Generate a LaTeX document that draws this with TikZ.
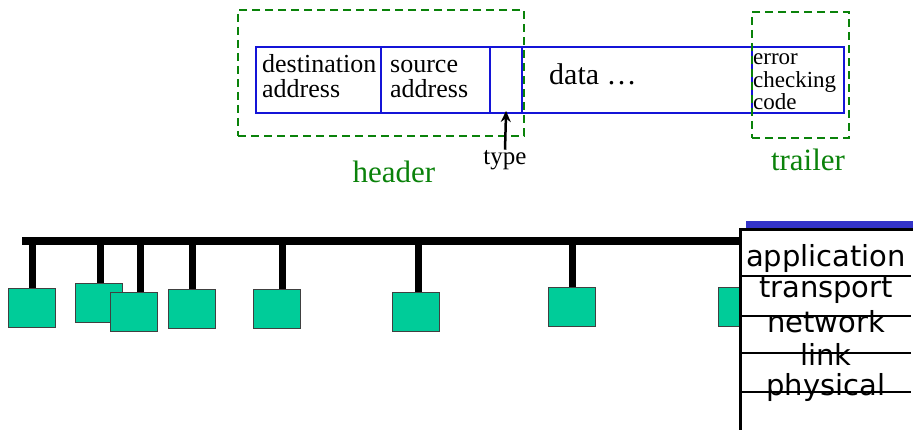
\documentclass[tikz,border=0pt]{standalone}
\usepackage{fontspec}
\setmainfont{Liberation Serif}
\newfontfamily\stackfont{DejaVu Sans}
\usetikzlibrary{arrows.meta}
\definecolor{framblue}{RGB}{20,20,215}
\definecolor{barblue}{RGB}{51,51,200}
\definecolor{hdrgreen}{RGB}{10,130,10}
\definecolor{hostgreen}{RGB}{0,204,153}
\begin{document}
\begin{tikzpicture}[x=1pt,y=-1pt,
  field/.style={draw=framblue,line width=2pt,anchor=north west,minimum height=66pt,inner sep=0},
  part/.style={draw=hdrgreen,line width=2pt,dash pattern=on 8pt off 5pt,anchor=north west,inner sep=0},
  host/.style={draw=black!75,line width=1.2pt,fill=hostgreen,anchor=north west,minimum width=47pt,minimum height=39pt,inner sep=0},
  bus/.style={line width=8pt},
  drop/.style={line width=7pt},
  layer/.style={font=\stackfont\fontsize{29}{29}\selectfont,anchor=base},
  layerline/.style={line width=2.6pt}]
 \useasboundingbox (0,0) rectangle (913,430);
 %% frame fields
 \node[field,minimum width=125pt] (dst) at (255,46) {};
 \node[field,minimum width=109pt] (src) at (380,46) {};
 \node[field,minimum width=32pt] (typ) at (489,46) {};
 \node[field,minimum width=230pt] (dat) at (521,46) {};
 \node[field,minimum width=92pt] (crc) at (751,46) {};
 % multi-line text: base anchor sits on the last line
 \node[anchor=base west,align=left,inner sep=0,font=\fontsize{26}{25}\selectfont] (dsttxt) at (262,98) {destination\\address};
 \node[anchor=base west,align=left,inner sep=0,font=\fontsize{26}{25}\selectfont] (srctxt) at (390,98) {source\\address};
 \node[anchor=base west,inner sep=0,font=\fontsize{30}{30}\selectfont] (dattxt) at (549,85) {data \ldots};
 \node[anchor=base west,align=left,inner sep=0,font=\fontsize{23}{22.5}\selectfont] (crctxt) at (753,110) {error\\checking\\code};
 %% header / trailer
 \node[part,minimum width=286pt,minimum height=126pt] (hdr) at (237,9) {};
 \node[part,minimum width=97pt,minimum height=126pt] (trl) at (751,11) {};
 \node[anchor=base,text=hdrgreen,font=\fontsize{31}{31}\selectfont] (hdrtxt) at (394,183) {header};
 \node[anchor=base,text=hdrgreen,font=\fontsize{31}{31}\selectfont] (trltxt) at (808,171) {trailer};
 \node[anchor=base,inner sep=1pt,font=\fontsize{25}{25}\selectfont] (typtxt) at (505,165) {type};
 \draw[line width=2.5pt,-{Stealth[length=11pt,width=10pt]},shorten >=-3pt] (typtxt.north) -- (typ.south);
 %% hosts on the bus
 \coordinate (busL) at (22,241.5);
 \coordinate (busR) at (740,241.5);
 \foreach \i/\x in {1/32,2/100,3/140,4/192,5/282,6/418,7/572}{\coordinate (t\i) at (\x,241.5);}
 \node[host] (h1) at (8,288) {};
 \node[host] (h2) at (75,283) {};
 \node[host] (h3) at (110,292) {};
 \node[host] (h4) at (168,289) {};
 \node[host] (h5) at (253,289) {};
 \node[host] (h6) at (392,292) {};
 \node[host] (h7) at (548,287) {};
 \node[host] (h8) at (718,287) {};
 \foreach \i in {1,...,7}{\draw[drop] (t\i) -- (t\i |- h\i.north);}
 \draw[bus] (busL) -- (busR);
 %% protocol stack
 \node[fill=white,anchor=north west,minimum width=173pt,minimum height=200pt,inner sep=0] (stack) at (740,230) {};
 \fill[barblue] (746,221) rectangle (913,229);
 \draw[layerline,line width=3pt] (stack.south west) |- (stack.north east);
 \node[layer] (app) at (826,267) {application};
 \node[layer] (tra) at (826,298) {transport};
 \node[layer] (net) at (826,333) {network};
 \node[layer] (lnk) at (826,366) {link};
 \node[layer] (phy) at (826,395) {physical};
 \foreach \y in {276,316,353,392}{\draw[layerline] (stack.west |- 0,\y) -- ++(171,0);}
\end{tikzpicture}
\end{document}
